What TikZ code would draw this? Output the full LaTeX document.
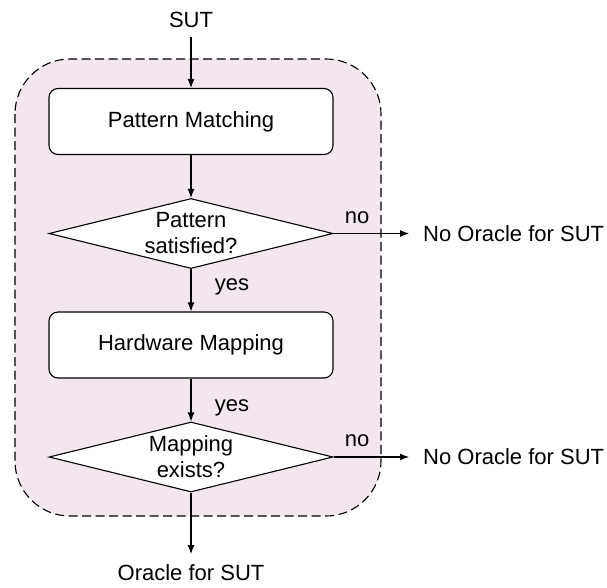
\documentclass[tikz,border=0pt]{standalone}
\usepackage{fontspec}
\setmainfont{Liberation Sans}
\usetikzlibrary{shapes.geometric,arrows.meta}
\definecolor{pinkbg}{RGB}{242,231,238}
\begin{document}
\begin{tikzpicture}[x=1pt,y=-1pt,
  every node/.style={font=\fontsize{22}{25}\selectfont, inner sep=0pt},
  proc/.style={draw, line width=1.1pt, fill=white, rounded corners=9pt, minimum width=284pt, minimum height=66pt},
  decide/.style={draw, line width=1.1pt, fill=white, diamond, aspect=4.06, minimum width=284pt, minimum height=70pt, align=center, font=\fontsize{22}{26}\selectfont},
  conn/.style={line width=1.1pt, -{Latex[length=9pt,width=7pt]}},
  lbl/.style={font=\fontsize{22}{25}\selectfont}]
\useasboundingbox (0,0) rectangle (607,587);
\draw[dash pattern=on 9pt off 4.5pt, line width=1.1pt, fill=pinkbg, rounded corners=55pt] (15,59) rectangle (381,516);
\node (sut) at (191,20) {SUT};
\node[proc] (pm) at (191,121.5) {Pattern Matching};
\node[decide] (d1) at (191,233.5) {Pattern\\satisfied?};
\node[proc] (hm) at (191,345) {Hardware Mapping};
\node[decide] (d2) at (191,457) {Mapping\\exists?};
\node[anchor=west] (no1) at (423,233.5) {No Oracle for SUT};
\node[anchor=west] (no2) at (423,457) {No Oracle for SUT};
\node (or) at (191,573) {Oracle for SUT};
\coordinate (sutb) at (191,37);
\coordinate (orb) at (191,554);
\draw[conn] (sutb) -- (pm.north);
\draw[conn] (pm.south) -- (d1.north);
\draw[conn] (d1.south) -- (hm.north);
\draw[conn] (hm.south) -- (d2.north);
\draw[conn] (d2.south) -- (orb);
\draw[conn] (d1.east) -- ([xshift=-14pt]no1.west);
\draw[conn] (d2.east) -- ([xshift=-14pt]no2.west);
\node[lbl] at (357,218) {no};
\node[lbl] at (357,441) {no};
\node[lbl] at (232,287) {yes};
\node[lbl] at (232,408) {yes};
\end{tikzpicture}
\end{document}
